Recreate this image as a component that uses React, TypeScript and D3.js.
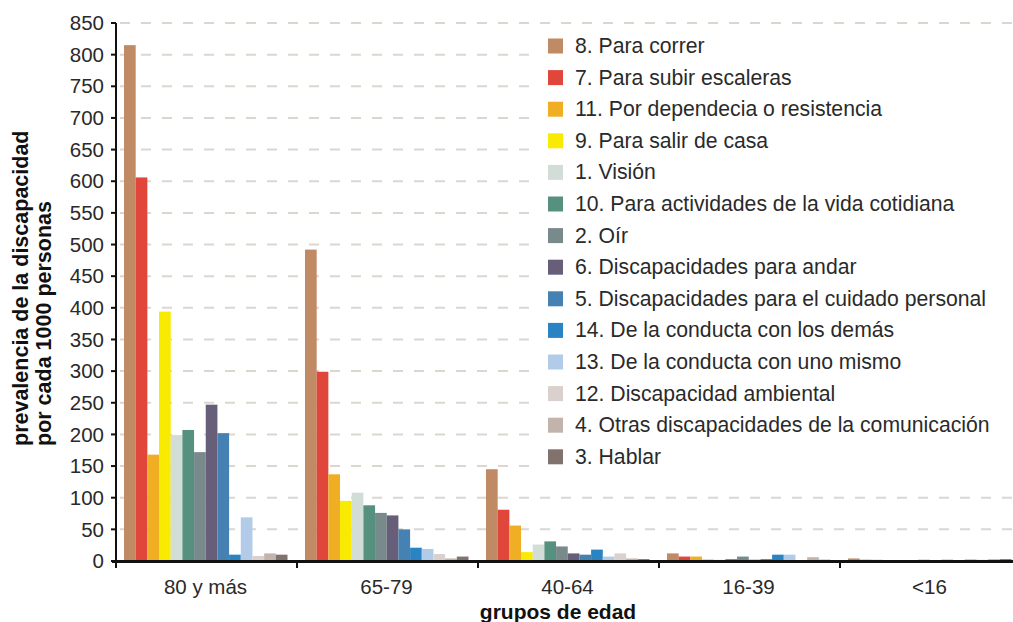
import React from "react";
import * as d3 from "d3";

const categories = ["80 y más", "65-79", "40-64", "16-39", "<16"];

const seriesNames = [
  "8. Para correr",
  "7. Para subir escaleras",
  "11. Por dependecia o resistencia",
  "9. Para salir de casa",
  "1. Visión",
  "10. Para actividades de la vida cotidiana",
  "2. Oír",
  "6. Discapacidades para andar",
  "5. Discapacidades para el cuidado personal",
  "14. De la conducta con los demás",
  "13. De la conducta con uno mismo",
  "12. Discapacidad ambiental",
  "4. Otras discapacidades de la comunicación",
  "3. Hablar",
];

const seriesColors = [
  "#c08a64",
  "#e0463a",
  "#f0ae24",
  "#f8ea00",
  "#d3ddd8",
  "#56917f",
  "#788a8b",
  "#675f7a",
  "#4681b3",
  "#2a83c3",
  "#b1cbe8",
  "#dad1ce",
  "#c2b4ab",
  "#81726d",
];

// values per series, in order of categories
const v8 = [815, 492, 145, 12, 4];
const v7 = [606, 299, 81, 7, 2];
const v11 = [168, 137, 56, 7, 2];
const v9 = [394, 95, 14, 3, 1];
const v1 = [199, 108, 26, 2, 1];
const v10 = [207, 88, 31, 3, 1];
const v2 = [172, 76, 23, 7, 2];
const v6 = [247, 72, 12, 2, 1];
const v5 = [202, 50, 10, 3, 2];
const v14 = [10, 21, 18, 10, 1];
const v13 = [69, 19, 7, 10, 3];
const v12 = [8, 11, 12, 1, 2];
const v4 = [12, 4, 4, 6, 3];
const v3 = [10, 7, 3, 2, 3];

const seriesValues = [v8, v7, v11, v9, v1, v10, v2, v6, v5, v14, v13, v12, v4, v3];

const yTicks = d3.range(0, 851, 50);

export default function App() {
  const W = 1013;
  const H = 622;
  const x0 = 116;
  const bandW = 181;
  const yScale = d3.scaleLinear().domain([0, 850]).range([561, 23]);
  const xScale = d3
    .scaleBand<string>()
    .domain(categories)
    .range([x0, x0 + bandW * categories.length])
    .padding(0);
  const inner = d3
    .scaleBand<number>()
    .domain(d3.range(seriesNames.length))
    .range([8, bandW - 9.5])
    .padding(0);

  const font = "'Liberation Sans', Arial, Helvetica, sans-serif";
  const textColor = "#2a2a2a";
  const legendY = (i: number) => 45.5 + i * 31.6;

  return (
    <div style={{ position: "absolute", left: 0, top: 0 }}>
      <svg width={W} height={H} style={{ display: "block", fontFamily: font }}>
        <rect x={0} y={0} width={W} height={H} fill="#ffffff" />
        {/* gridlines */}
        {yTicks
          .filter((t) => t > 0)
          .map((t) => (
            <line
              key={"g" + t}
              x1={x0 + 4}
              x2={W}
              y1={yScale(t)}
              y2={yScale(t)}
              stroke="#ddd6cf"
              strokeWidth={2}
              strokeDasharray="10,11"
            />
          ))}
        {/* legend background */}
        <rect x={533} y={30} width={W - 533} height={450} fill="#ffffff" />
        {/* bars */}
        {categories.map((c, ci) => (
          <g key={c} transform={`translate(${xScale(c)},0)`}>
            {seriesValues.map((vals, si) => (
              <rect
                key={si}
                x={inner(si)}
                y={yScale(vals[ci])}
                width={inner.bandwidth()}
                height={yScale(0) - yScale(vals[ci])}
                fill={seriesColors[si]}
              />
            ))}
          </g>
        ))}
        {/* y axis */}
        <line x1={x0} x2={x0} y1={yScale(850)} y2={yScale(0)} stroke="#111" strokeWidth={2} />
        {yTicks.map((t) => (
          <g key={"t" + t}>
            <line x1={x0 - 5} x2={x0} y1={yScale(t)} y2={yScale(t)} stroke="#111" strokeWidth={2} />
            <text
              x={x0 - 12}
              y={yScale(t)}
              dy="0.35em"
              textAnchor="end"
              fontSize={20.5}
              fill={textColor}
            >
              {t}
            </text>
          </g>
        ))}
        {/* x axis */}
        <line x1={x0 - 4} x2={W} y1={yScale(0) + 0.5} y2={yScale(0) + 0.5} stroke="#111" strokeWidth={3} />
        {categories.map((c) => (
          <g key={"x" + c}>
            <line
              x1={xScale(c) as number}
              x2={xScale(c) as number}
              y1={yScale(0)}
              y2={yScale(0) + 7}
              stroke="#111"
              strokeWidth={2}
            />
            <text
              x={(xScale(c) as number) + bandW / 2 - 1}
              y={594}
              textAnchor="middle"
              fontSize={20.5}
              fill={textColor}
            >
              {c}
            </text>
          </g>
        ))}
        {/* axis titles */}
        <text x={558} y={619} textAnchor="middle" fontSize={21} fontWeight="bold" fill="#111">
          grupos de edad
        </text>
        <g transform="translate(28,446) rotate(-90)">
          <text x={0} y={0} textAnchor="start" fontSize={21.5} fontWeight="bold" fill="#111">
            prevalencia de la discapacidad
          </text>
          <text x={0} y={23} textAnchor="start" fontSize={21.5} fontWeight="bold" fill="#111">
            por cada 1000 personas
          </text>
        </g>
        {/* legend */}
        {seriesNames.map((n, i) => (
          <g key={"l" + i}>
            <rect x={548} y={legendY(i) - 7} width={15} height={15} fill={seriesColors[i]} />
            <text x={575} y={legendY(i)} dy="0.35em" fontSize={21.2} fill={textColor}>
              {n}
            </text>
          </g>
        ))}
      </svg>
    </div>
  );
}
